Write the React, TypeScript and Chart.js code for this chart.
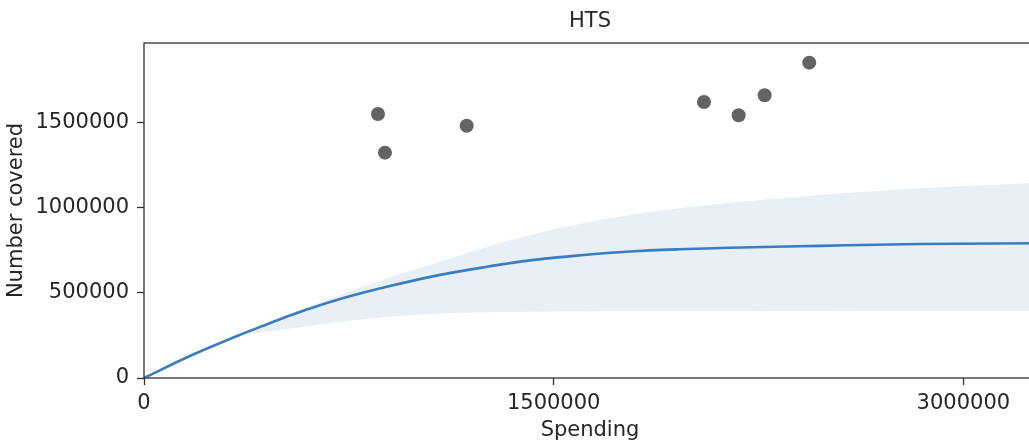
import { useEffect, useRef } from "react";
import { Chart, registerables } from "chart.js";

Chart.register(...registerables);

// Observed programme data (scatter)
const spendingObserved = [856700, 882300, 1181500, 2050300, 2177300, 2272500, 2435800];
const coveredObserved = [1548700, 1321700, 1480000, 1619000, 1541000, 1658300, 1849600];

// Fitted curve and its uncertainty band
const curveSpending = [0, 168000, 351000, 430000, 540000, 718000, 900000, 1084000, 1250000, 1413000, 1600000, 1779000, 1960000, 2145000, 2475000, 2841000, 3266000];
const curveMean = [0, 129000, 253000, 303000, 370000, 463000, 539000, 605000, 651000, 690000, 720000, 742000, 755000, 764000, 775000, 786000, 790500];
const curveUpper = [0, 130000, 256000, 310000, 382000, 487000, 590000, 682000, 765000, 839000, 905000, 956000, 995000, 1028000, 1074000, 1113000, 1144000];
const curveLower = [0, 128000, 249000, 268000, 290000, 330000, 360000, 379000, 386000, 389000, 390000, 391000, 392000, 392000, 393000, 394000, 395000];

const xTicks = [0, 1500000, 3000000];
const yTicks = [0, 500000, 1000000, 1500000];

const FONT = "DejaVu Sans";
const TEXT = "#262626";
const AXIS = "#333333";

export default function App() {
  const ref = useRef<HTMLCanvasElement | null>(null);

  useEffect(() => {
    if (!ref.current) return;
    const pts = (xs: number[], ys: number[]) => xs.map((x, i) => ({ x, y: ys[i] }));

    const framePlugin = {
      id: "frame",
      afterDraw(chart: any) {
        const { ctx, chartArea } = chart;
        const { left, right, top, bottom } = chartArea;
        ctx.save();
        ctx.strokeStyle = AXIS;
        ctx.lineWidth = 1.3;
        ctx.strokeRect(left, top, right - left, bottom - top);
        ctx.fillStyle = TEXT;
        ctx.font = `21px "${FONT}"`;
        ctx.textAlign = "center";
        ctx.textBaseline = "middle";
        ctx.fillText("HTS", (left + right) / 2, 22);
        ctx.restore();
      },
    };

    const chart = new Chart(ref.current, {
      type: "scatter",
      data: {
        datasets: [
          {
            type: "scatter",
            data: pts(spendingObserved, coveredObserved),
            backgroundColor: "#636363",
            borderWidth: 0,
            pointRadius: 7,
          } as any,
          {
            type: "line",
            data: pts(curveSpending, curveMean),
            borderColor: "#3a7cc0",
            borderWidth: 2.6,
            pointRadius: 0,
            fill: false,
            cubicInterpolationMode: "monotone",
          },
          {
            type: "line",
            data: pts(curveSpending, curveUpper),
            borderWidth: 0,
            borderColor: "rgba(0,0,0,0)",
            backgroundColor: "#e9eff7",
            pointRadius: 0,
            fill: "+1",
            cubicInterpolationMode: "monotone",
          },
          {
            type: "line",
            data: pts(curveSpending, curveLower),
            borderWidth: 0,
            borderColor: "rgba(0,0,0,0)",
            pointRadius: 0,
            fill: false,
            cubicInterpolationMode: "monotone",
          },
        ],
      },
      options: {
        responsive: false,
        animation: false,
        devicePixelRatio: 1,
        layout: { autoPadding: false, padding: { top: 43, right: 0, bottom: 0, left: 0 } },
        plugins: {
          legend: { display: false },
          tooltip: { enabled: false },
          title: { display: false },
        },
        scales: {
          x: {
            type: "linear",
            min: 0,
            max: 3266000,
            afterFit: (s: any) => {
              s.height = 66;
              s.paddingLeft = 0;
              s.paddingRight = 0;
            },
            afterBuildTicks: (s: any) => {
              s.ticks = xTicks.map((v) => ({ value: v }));
            },
            grid: {
              display: true,
              drawOnChartArea: false,
              drawTicks: true,
              tickLength: 7,
              tickColor: AXIS,
              tickWidth: 1.3,
            },
            border: { display: false },
            ticks: {
              font: { family: FONT, size: 21 },
              color: TEXT,
              padding: 6,
              maxRotation: 0,
              autoSkip: false,
              callback: (v: any) => String(v),
            },
            title: {
              display: true,
              text: "Spending",
              font: { family: FONT, size: 21 },
              color: TEXT,
              padding: { top: 0, bottom: 1 },
            },
          },
          y: {
            type: "linear",
            min: 0,
            max: 1965000,
            afterFit: (s: any) => {
              s.width = 144;
              s.paddingTop = 0;
              s.paddingBottom = 0;
            },
            afterBuildTicks: (s: any) => {
              s.ticks = yTicks.map((v) => ({ value: v }));
            },
            grid: {
              display: true,
              drawOnChartArea: false,
              drawTicks: true,
              tickLength: 7,
              tickColor: AXIS,
              tickWidth: 1.3,
            },
            border: { display: false },
            ticks: {
              font: { family: FONT, size: 21 },
              color: TEXT,
              padding: 8,
              autoSkip: false,
              callback: (v: any) => String(v),
            },
            title: {
              display: true,
              text: "Number covered",
              font: { family: FONT, size: 21 },
              color: TEXT,
              padding: { top: 4, bottom: 0 },
            },
          },
        },
      },
      plugins: [framePlugin],
    });

    return () => chart.destroy();
  }, []);

  return (
    <div
      style={{
        position: "fixed",
        left: 0,
        top: 0,
        width: 1029,
        height: 444,
        overflow: "hidden",
        background: "#ffffff",
      }}
    >
      <div style={{ width: 1036, height: 444 }}>
        <canvas
          ref={ref}
          width={1036}
          height={444}
          style={{ display: "block", width: 1036, height: 444 }}
        />
      </div>
    </div>
  );
}
